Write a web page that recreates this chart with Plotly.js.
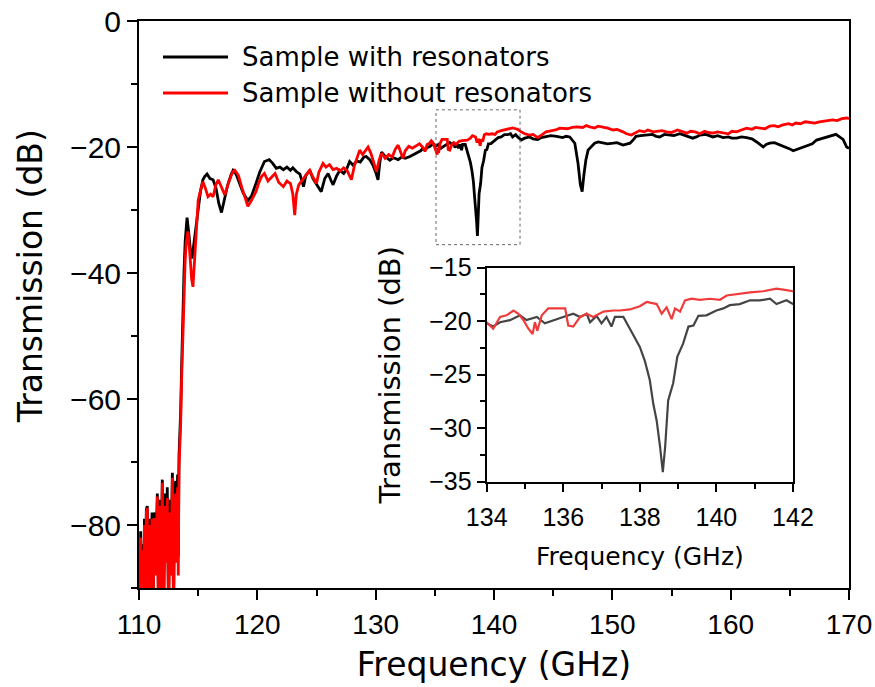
<!DOCTYPE html>
<html><head><meta charset="utf-8">
<script src="https://cdn.plot.ly/plotly-3.0.1.min.js"></script>
<style>html,body{margin:0;padding:0;background:#fff}#chart{width:875px;height:687px}</style>
</head><body><div id="chart"></div>
<script>
// [frequency (GHz), transmission (dB)]
const withResonators = [
[110.0,-84],[110.07,-93],[110.14,-81],[110.22,-95],[110.3,-83],[110.38,-95],[110.46,-79],[110.55,-92],[110.62,-77.5],[110.7,-77],
[110.8,-95],[110.9,-79],[111.0,-90],[111.1,-78],[111.2,-93],[111.27,-78],[111.4,-87],[111.55,-75],[111.65,-95],[111.75,-76],
[111.85,-89],[111.97,-72.8],[112.08,-94],[112.2,-75],[112.3,-85],[112.39,-74],[112.5,-94],[112.6,-76],[112.7,-86],[112.82,-71.7],
[112.92,-93],[113.0,-75],[113.1,-73],[113.18,-84],[113.26,-72],[113.32,-85],[113.38,-69],
[113.45,-66],[113.52,-62],[113.6,-55],[113.7,-46],[113.8,-40],[113.9,-35],[114.06,-31.2],[114.2,-33.5],[114.35,-36.5],[114.48,-37.7],
[114.65,-35],[114.85,-32],[114.99,-30.5],[115.2,-27],[115.4,-25.2],[115.55,-24.7],[115.75,-24.3],[116.0,-25.0],[116.26,-25.2],[116.5,-26.5],
[116.75,-29.0],[116.97,-30.4],[117.2,-28.5],[117.5,-26],[117.8,-24.3],[117.95,-23.7],[118.2,-24.3],[118.5,-25.8],[118.8,-27.3],[119.2,-28.5],
[119.5,-27.8],[119.9,-25.7],[120.2,-24.0],[120.6,-22.3],[121.0,-22.0],[121.3,-22.6],[121.6,-23.4],[121.9,-23.2],[122.2,-23.6],[122.5,-23.2],
[122.8,-23.7],[123.0,-23.3],[123.3,-23.9],[123.6,-24.3],[123.9,-26.3],[124.1,-24.5],[124.43,-23.7],[124.7,-25.0],[125.0,-26.0],[125.2,-26.5],
[125.4,-27.1],[125.7,-25.0],[125.98,-24.2],[126.2,-25.2],[126.4,-26.0],[126.7,-24.6],[126.97,-23.7],[127.3,-24.2],[127.55,-23.5],[127.8,-22.3],
[128.1,-22.9],[128.4,-22.2],[128.7,-22.4],[129.0,-21.6],[129.2,-21.5],[129.5,-22.0],[129.8,-23.0],[130.0,-24.0],[130.2,-25.2],[130.35,-22.5],
[130.5,-20.8],[130.8,-21.5],[131.2,-22.1],[131.5,-21.7],[131.9,-22.0],[132.2,-21.6],[132.5,-21.8],[132.9,-21.5],[133.2,-21.2],[133.5,-21.0],[133.8,-20.6],
[134.0,-20.2],[134.17,-20.5],[134.35,-20.1],[134.61,-19.9],[134.87,-19.45],[135.04,-19.9],[135.31,-19.6],[135.52,-20.2],[135.74,-19.9],[136.0,-19.6],
[136.26,-19.3],[136.44,-19.6],[136.61,-19.3],[136.7,-20.1],[136.87,-19.5],[137.0,-20.2],[137.13,-19.6],[137.26,-20.5],[137.35,-19.6],[137.57,-19.6],
[137.74,-20.7],[137.87,-21.5],[138.0,-22.4],[138.13,-23.7],[138.26,-25.5],[138.35,-27.7],[138.44,-29.3],[138.53,-31.8],[138.6,-34.1],[138.66,-31.8],
[138.74,-27.4],[138.87,-25.8],[138.98,-23.3],[139.13,-22.1],[139.27,-20.5],[139.4,-20.4],[139.53,-19.5],[139.74,-19.45],[140.0,-19.0],[140.18,-18.8],
[140.35,-18.5],[140.61,-18.4],[140.88,-18.05],[141.14,-18.05],[141.4,-17.9],[141.57,-18.4],[141.83,-18.05],[142.0,-18.4],
[142.3,-18.9],[142.6,-18.6],[143.0,-18.4],[143.3,-18.7],[143.7,-18.8],[144.0,-18.5],[144.4,-18.4],[144.8,-18.2],[145.3,-18.3],[145.8,-18.5],
[146.1,-18.3],[146.4,-18.4],[146.83,-19.4],[147.1,-22.6],[147.3,-26.0],[147.45,-27.1],[147.6,-24.4],[147.76,-22.1],[147.95,-20.5],[148.5,-19.4],
[148.8,-19.2],[149.2,-19.3],[149.6,-19.5],[150.07,-19.4],[150.4,-19.3],[150.9,-19.7],[151.2,-19.6],[151.5,-19.4],[151.8,-18.8],[152.0,-18.3],
[152.4,-18.2],[152.9,-18.1],[153.4,-18.0],[153.7,-18.3],[154.0,-18.4],[154.4,-18.0],[154.86,-18.1],[155.2,-18.2],[155.7,-17.9],[156.0,-18.1],
[156.4,-18.3],[156.8,-18.6],[157.1,-18.4],[157.4,-18.1],[157.9,-18.0],[158.5,-18.4],[158.9,-18.2],[159.37,-18.5],[159.8,-18.4],[160.1,-18.6],
[160.5,-18.6],[160.9,-18.4],[161.35,-18.5],[161.8,-18.7],[162.2,-19.2],[162.75,-20.0],[163.0,-19.6],[163.3,-19.4],[163.7,-19.3],[164.2,-19.7],
[164.5,-19.9],[164.7,-20.0],[165.0,-20.3],[165.28,-20.6],[165.6,-20.4],[166.1,-20.0],[166.4,-19.9],[166.7,-19.7],[166.9,-19.5],[167.26,-18.9],
[167.6,-18.7],[168.1,-18.4],[168.4,-18.2],[168.67,-18.1],[168.9,-18.0],[169.2,-18.4],[169.5,-18.8],[169.8,-20.0],[170.0,-20.2]
];
const withoutResonators = [
[110.0,-82],[110.07,-92],[110.14,-82],[110.22,-95],[110.3,-84],[110.38,-95],[110.46,-80],[110.55,-93],[110.62,-78],[110.7,-77.3],
[110.8,-95],[110.9,-80],[111.0,-91],[111.1,-79],[111.2,-94],[111.27,-78.9],[111.4,-88],[111.55,-75.5],[111.65,-95],[111.75,-77],
[111.85,-90],[111.97,-73.3],[112.08,-95],[112.2,-77],[112.3,-86],[112.39,-75.7],[112.5,-95],[112.6,-78],[112.7,-88],[112.82,-72.5],
[112.92,-95],[113.0,-78],[113.1,-75],[113.18,-86],[113.26,-74],[113.32,-88],[113.38,-71],
[113.45,-68],[113.52,-64],[113.6,-57],[113.7,-49],[113.8,-43],[113.9,-38],[114.0,-35],[114.14,-33.4],[114.3,-37],[114.45,-41],
[114.56,-42.2],[114.7,-38],[114.85,-32],[115.0,-28.5],[115.13,-27.4],[115.4,-25.5],[115.6,-26.5],[115.83,-27.9],[116.05,-27.5],[116.26,-27.9],
[116.5,-26],[116.7,-25.2],[117.0,-26.5],[117.25,-27.6],[117.6,-25.5],[117.9,-24],[118.1,-23.7],[118.4,-24.5],[118.7,-26.5],[119.0,-28.5],
[119.2,-29.4],[119.5,-28.5],[119.9,-27.0],[120.1,-25.8],[120.35,-24.7],[120.6,-24.2],[120.9,-25.4],[121.2,-24.8],[121.5,-24.2],[121.8,-25.6],
[122.2,-26.3],[122.5,-25.4],[122.8,-25.8],[123.0,-27.5],[123.16,-30.8],[123.3,-27.5],[123.5,-26.0],[123.7,-25.5],[124.0,-24.8],[124.2,-24.4],
[124.43,-23.7],[124.7,-24.8],[125.0,-25.8],[125.2,-24.0],[125.55,-22.6],[125.8,-23.2],[126.1,-22.8],[126.4,-23.6],[126.7,-23.4],[127.0,-23.8],
[127.3,-23.3],[127.6,-23.8],[127.8,-24.6],[127.95,-25.2],[128.2,-23.0],[128.45,-21.5],[128.65,-20.5],[128.9,-21.2],[129.1,-20.6],[129.36,-20.0],
[129.6,-21.0],[129.85,-22.6],[130.07,-23.9],[130.3,-22.0],[130.5,-21.0],[130.8,-21.8],[131.1,-21.2],[131.4,-21.6],[131.65,-20.4],[131.9,-19.7],
[132.1,-20.8],[132.3,-21.8],[132.5,-20.6],[132.8,-19.9],[133.1,-20.2],[133.4,-19.8],[133.7,-19.5],
[134.0,-20.1],[134.17,-20.7],[134.35,-19.6],[134.52,-19.45],[134.7,-19.0],[134.83,-19.3],[134.96,-19.9],[135.09,-20.7],[135.2,-21.2],[135.26,-20.1],
[135.32,-20.9],[135.44,-19.45],[135.61,-18.8],[135.83,-18.8],[136.05,-18.8],[136.13,-20.4],[136.26,-20.5],[136.44,-19.6],[136.61,-19.3],[136.78,-19.6],
[137.05,-19.1],[137.31,-19.0],[137.48,-19.0],[137.74,-18.9],[138.0,-18.6],[138.18,-18.2],[138.44,-18.4],[138.57,-19.3],[138.7,-18.7],[138.83,-19.8],
[138.92,-18.8],[139.05,-19.1],[139.18,-18.05],[139.35,-17.9],[139.57,-18.0],[139.83,-17.9],[140.09,-18.0],[140.27,-17.6],[140.61,-17.4],[140.88,-17.3],
[141.22,-17.2],[141.57,-16.96],[141.83,-17.1],[142.0,-17.2],
[142.3,-17.6],[142.6,-17.9],[143.0,-18.1],[143.3,-18.0],[143.7,-18.5],[144.0,-18.1],[144.4,-17.6],[144.9,-17.4],[145.2,-17.3],[145.56,-17.0],
[146.2,-17.1],[146.6,-16.9],[146.97,-16.8],[147.5,-16.9],[147.8,-16.6],[148.1,-16.8],[148.5,-17.0],[148.8,-16.7],[149.2,-16.8],[149.6,-17.0],
[150.07,-17.3],[150.4,-17.2],[150.9,-17.6],[151.2,-17.9],[151.6,-18.1],[151.9,-17.8],[152.3,-17.4],[152.7,-17.6],[153.0,-17.3],[153.45,-17.6],
[153.9,-17.5],[154.2,-17.4],[154.57,-17.6],[155.0,-17.7],[155.5,-17.3],[155.9,-17.5],[156.3,-17.8],[156.6,-17.5],[157.0,-17.6],[157.4,-17.9],
[157.8,-17.5],[158.1,-17.7],[158.5,-17.8],[158.9,-17.6],[159.4,-17.8],[159.8,-17.9],[160.1,-17.5],[160.5,-17.6],[160.9,-17.3],[161.35,-17.0],
[161.8,-17.2],[162.1,-16.9],[162.5,-17.0],[162.9,-17.1],[163.3,-16.7],[163.7,-16.6],[164.0,-16.8],[164.4,-16.5],[164.9,-16.3],[165.2,-16.5],
[165.5,-16.2],[165.9,-16.3],[166.3,-16.0],[166.7,-16.1],[167.1,-16.2],[167.5,-16.0],[167.9,-15.9],[168.2,-15.8],[168.6,-15.7],[169.0,-15.8],
[169.4,-15.5],[169.8,-15.4],[170.0,-15.5]
];
const seriesNames = ['Sample with resonators', 'Sample without resonators'];
const mainXTicks = [110, 120, 130, 140, 150, 160, 170];
const mainYTicks = [0, -20, -40, -60, -80];
const insetXTicks = [134, 136, 138, 140, 142];
const insetYTicks = [-15, -20, -25, -30, -35];
const zoomBox = {x0: 135.1, x1: 142.2, y0: -35.5, y1: -14.1};

const byFreq = a => a.slice().sort((p, q) => p[0] - q[0]);
const fx = a => byFreq(a).map(p => p[0]);
const fy = a => byFreq(a).map(p => p[1]);

const traces = [
  {x: fx(withResonators), y: fy(withResonators), xaxis:'x', yaxis:'y', mode:'lines', name: seriesNames[0], line:{color:'#000000', width:2.8}},
  {x: fx(withoutResonators), y: fy(withoutResonators), xaxis:'x', yaxis:'y', mode:'lines', name: seriesNames[1], line:{color:'#ff0000', width:2.8}},
  {x: fx(withResonators), y: fy(withResonators), xaxis:'x2', yaxis:'y2', mode:'lines', name: seriesNames[0], line:{color:'#444444', width:2.2}},
  {x: fx(withoutResonators), y: fy(withoutResonators), xaxis:'x2', yaxis:'y2', mode:'lines', name: seriesNames[1], line:{color:'#ef3b3b', width:2.2}}
];

const axisCommon = {
  ticks:'outside', tickwidth:2, tickcolor:'#000', showline:true, linewidth:2, linecolor:'#000',
  mirror:true, showgrid:false, zeroline:false, automargin:false
};
const titleFont = 'DejaVu Sans, Verdana, sans-serif';
const tickFont = 'Liberation Sans, Arial, sans-serif';

const layout = {
  width: 875, height: 687,
  margin: {l:139, r:26, t:21, b:99},
  paper_bgcolor:'#ffffff', plot_bgcolor:'#ffffff',
  showlegend:false,
  font:{family: tickFont, color:'#000'},
  xaxis: Object.assign({}, axisCommon, {
    domain:[0,1], anchor:'y', range:[110,170], tickmode:'array', tickvals: mainXTicks, ticklen:10,
    minor:{ticks:'outside', ticklen:6, tickwidth:2, tickcolor:'#000', tick0:110, dtick:5, showgrid:false},
    tickfont:{size:28, family: tickFont},
    title:{text:'Frequency (GHz)', font:{size:33, family: titleFont}, standoff:14}
  }),
  yaxis: Object.assign({}, axisCommon, {
    domain:[0,1], anchor:'x', range:[-90,0], tickmode:'array', tickvals: mainYTicks, ticklen:10,
    minor:{ticks:'outside', ticklen:6, tickwidth:2, tickcolor:'#000', tick0:0, dtick:10, showgrid:false},
    tickfont:{size:30, family: tickFont}
  }),
  xaxis2: Object.assign({}, axisCommon, {
    domain:[0.4897,0.9211], anchor:'y2', range:[134,142], tickmode:'array', tickvals: insetXTicks, ticklen:8,
    ticklabelstandoff:4,
    minor:{ticks:'outside', ticklen:5, tickwidth:2, tickcolor:'#000', tick0:134, dtick:1, showgrid:false},
    tickfont:{size:25, family: tickFont},
    title:{text:'Frequency (GHz)', font:{size:25, family: titleFont}, standoff:18}
  }),
  yaxis2: Object.assign({}, axisCommon, {
    domain:[0.1875,0.5649], anchor:'x2', range:[-35,-15], tickmode:'array', tickvals: insetYTicks, ticklen:8,
    minor:{ticks:'outside', ticklen:5, tickwidth:2, tickcolor:'#000', tick0:-15, dtick:2.5, showgrid:false},
    tickfont:{size:25, family: tickFont},
    title:{text:'Transmission (dB)', font:{size:29, family: titleFont}, standoff:20}
  }),
  shapes: [
    {type:'rect', xref:'x', yref:'y', x0: zoomBox.x0, x1: zoomBox.x1, y0: zoomBox.y0, y1: zoomBox.y1,
     line:{color:'#666', width:1, dash:'3px,3px'}, fillcolor:'rgba(0,0,0,0)'},
    {type:'line', xref:'paper', yref:'paper', x0:0.0338, x1:0.1254, y0:0.9365, y1:0.9365, line:{color:'#000000', width:2.8}},
    {type:'line', xref:'paper', yref:'paper', x0:0.0338, x1:0.1254, y0:0.873, y1:0.873, line:{color:'#ff0000', width:2.8}}
  ],
  annotations: [
    {xref:'paper', yref:'paper', x:0.1423, y:0.9365, xanchor:'left', yanchor:'middle', showarrow:false,
     text: seriesNames[0], font:{size:26, family: titleFont, color:'#000'}},
    {xref:'paper', yref:'paper', x:0.1423, y:0.873, xanchor:'left', yanchor:'middle', showarrow:false,
     text: seriesNames[1], font:{size:26, family: titleFont, color:'#000'}},
    {xref:'paper', yref:'paper', x:-0.1535, y:0.55, xanchor:'center', yanchor:'middle', showarrow:false, textangle:-90,
     text:'Transmission (dB)', font:{size:33, family: titleFont, color:'#000'}}
  ]
};

Plotly.newPlot('chart', traces, layout, {displayModeBar:false, staticPlot:true});
</script>
</body></html>
